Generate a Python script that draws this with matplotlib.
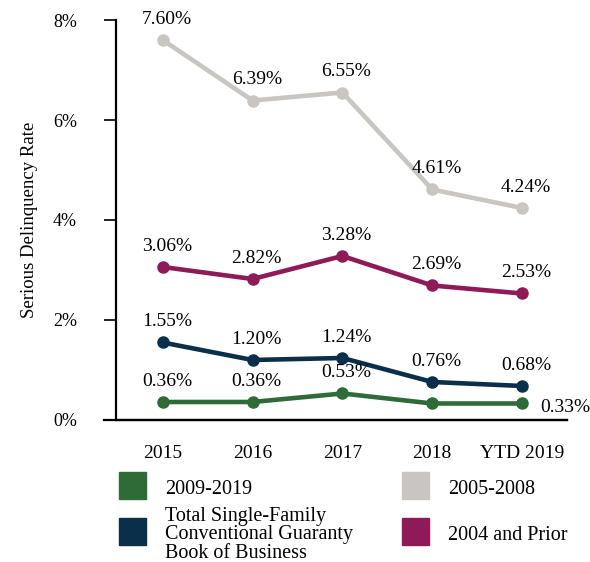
import matplotlib.pyplot as plt
from matplotlib.patches import Rectangle

plt.rcParams['font.family'] = ['Liberation Serif', 'DejaVu Serif']

years = ['2015', '2016', '2017', '2018', 'YTD 2019']
vintage_2009_2019 = [0.36, 0.36, 0.53, 0.33, 0.33]
total_book = [1.55, 1.20, 1.24, 0.76, 0.68]
vintage_2005_2008 = [7.60, 6.39, 6.55, 4.61, 4.24]
vintage_2004_prior = [3.06, 2.82, 3.28, 2.69, 2.53]

green = '#2e6b37'
navy = '#0a2f4a'
gray = '#c9c6c1'
magenta = '#8e1a57'

W, H = 590, 562
fig = plt.figure(figsize=(W / 100, H / 100), dpi=100)
ax = fig.add_axes([0.1966, 0.2527, 0.7644, 0.7117])

x = list(range(len(years)))
series = [
    (vintage_2005_2008, gray),
    (vintage_2004_prior, magenta),
    (total_book, navy),
    (vintage_2009_2019, green),
]
for vals, c in series:
    ax.plot(x, vals, color=c, lw=3.3, marker='o', ms=8, solid_capstyle='round', zorder=3)
    for i, v in enumerate(vals):
        if vals is vintage_2009_2019:
            # 2018 label hidden behind the 0.76% label in the original
            if i == 3:
                continue
            if i == 4:
                ax.annotate(f'{v:.2f}%', (i, v), xytext=(31, -3), textcoords='offset points',
                            ha='center', va='center', fontsize=14)
                continue
        ax.annotate(f'{v:.2f}%', (i, v), xytext=(3, 15), textcoords='offset points',
                    ha='center', va='center', fontsize=14)

ax.set_xlim(-0.52, 4.5)
ax.set_ylim(0, 8)
ax.set_yticks([0, 2, 4, 6, 8])
ax.set_yticklabels(['0%', '2%', '4%', '6%', '8%'])
ax.set_xticks(x)
ax.set_xticklabels(years)
ax.tick_params(axis='x', length=0, pad=18, labelsize=14)
ax.tick_params(axis='y', length=9, width=1.2, pad=19, direction='out', labelsize=13)
ax.spines['top'].set_visible(False)
ax.spines['right'].set_visible(False)
ax.spines['left'].set_linewidth(1.6)
ax.spines['bottom'].set_linewidth(1.6)
ax.set_ylabel('Serious Delinquency Rate', fontsize=13.5, labelpad=11)

# bottom line extending left of the y axis
ax.plot([-0.65, 4.5], [0, 0], color='black', lw=1.6, clip_on=False, zorder=4)

# legend, two columns laid out by hand
legend_items = [
    ('2009-2019', green, 119, 472),
    ('Total Single-Family\nConventional Guaranty\nBook of Business', navy, 119, 518),
    ('2005-2008', gray, 402, 472),
    ('2004 and Prior', magenta, 402, 518),
]
for label, c, px, py in legend_items:
    fig.add_artist(Rectangle((px / W, 1 - (py + 27) / H), 27 / W, 27 / H,
                             transform=fig.transFigure, color=c))
    fig.text((px + 46) / W, 1 - (py + 17) / H, label, fontsize=14.5,
             ha='left', va='center', linespacing=0.95)

fig.savefig('out.png', dpi=100)
